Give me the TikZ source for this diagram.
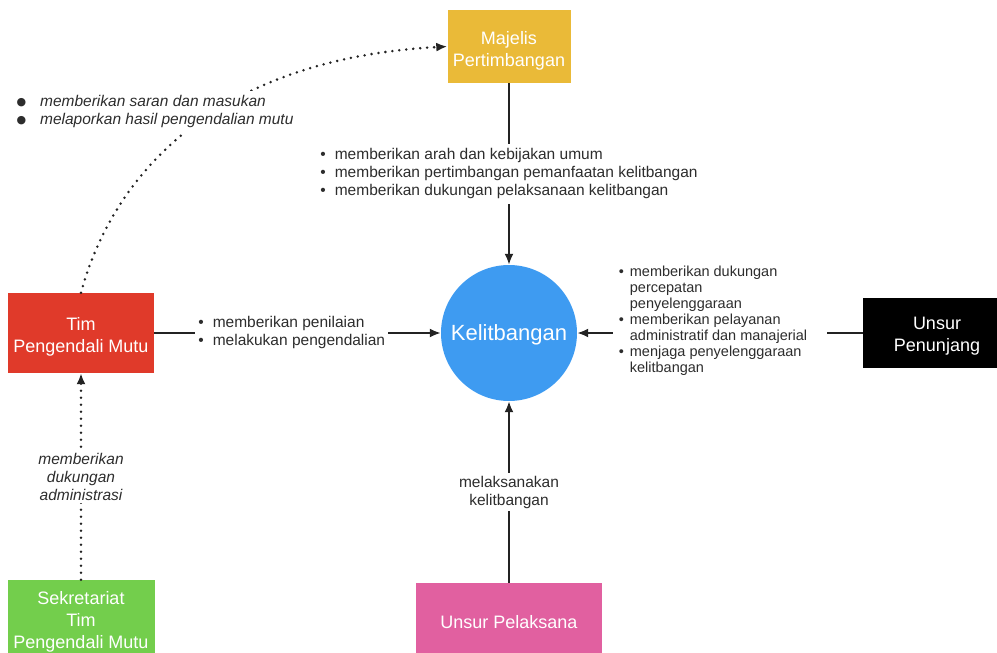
\documentclass[tikz,border=0pt]{standalone}
\usepackage{fontspec}
\setmainfont{Liberation Sans}
\newfontfamily\dejavu{DejaVu Sans}
\usetikzlibrary{arrows.meta}
\definecolor{cgold}{RGB}{234,186,56}
\definecolor{cblue}{RGB}{62,155,241}
\definecolor{cred}{RGB}{224,58,42}
\definecolor{cgreen}{RGB}{115,206,76}
\definecolor{cpink}{RGB}{225,96,160}
\definecolor{ctext}{RGB}{45,45,45}
\definecolor{cline}{RGB}{35,35,35}
\newcommand{\bigdot}{\raisebox{1.5pt}{\dejavu\fontsize{11}{11}\selectfont ●}}
\newcommand{\boxtxt}[2][-4pt]{\raisebox{#1}[\height][\depth]{\begin{tabular}{@{}c@{}}#2\end{tabular}}}
\begin{document}
\begin{tikzpicture}[x=1pt,y=-1pt,
  box/.style={rectangle, draw=none, text=white, align=center, inner sep=0pt,
    font=\fontsize{18}{22}\selectfont},
  lbl/.style={fill=white, text=ctext, inner sep=3pt, align=center,
    font=\fontsize{15.5}{18}\selectfont},
  conn/.style={draw=cline, line width=2pt, -{Latex[length=11pt,width=9pt]}},
  dotconn/.style={draw=cline, line width=2.8pt, dash pattern=on 0pt off 7pt,
    line cap=round, -{Latex[length=11pt,width=9pt]}}
]
\useasboundingbox (0,0) rectangle (997,653);

\node[box, fill=cgold, minimum width=123pt, minimum height=73pt] (maj) at (509,46.5) {\boxtxt[-5pt]{Majelis\\Pertimbangan}};
\node[circle, fill=cblue, minimum size=136pt, inner sep=0pt, text=white,
  font=\fontsize{22}{26}\selectfont] (kel) at (509,333) {\raisebox{-2pt}[\height][\depth]{Kelitbangan}};
\node[box, fill=cred, minimum width=146pt, minimum height=80pt] (tim) at (81,333) {\boxtxt[-4pt]{Tim\\Pengendali Mutu}};
\node[box, fill=black, minimum width=148pt, minimum height=70pt] (pen) at (937,333) {\boxtxt[-3pt]{Unsur\\Penunjang}};
\node[box, fill=cgreen, minimum width=147pt, minimum height=80pt] (sek) at (81,620) {\boxtxt[-2pt]{Sekretariat\\Tim\\Pengendali Mutu}};
\node[box, fill=cpink, minimum width=186pt, minimum height=78pt] (pel) at (509,622) {Unsur Pelaksana};

\draw[conn] (maj) -- node[lbl]{\begin{tabular}{@{}l@{\hspace{9pt}}l@{}}
  \textbullet & memberikan arah dan kebijakan umum\\
  \textbullet & memberikan pertimbangan pemanfaatan kelitbangan\\
  \textbullet & memberikan dukungan pelaksanaan kelitbangan
  \end{tabular}} (kel);

\draw[conn] (tim) -- node[lbl, pos=0.48]{\begin{tabular}{@{}l@{\hspace{9pt}}l@{}}
  \textbullet & memberikan penilaian\\
  \textbullet & melakukan pengendalian
  \end{tabular}} (kel);

\draw[conn] (pen) -- node[lbl, pos=0.50, yshift=12pt, inner xsep=6pt,
  font=\fontsize{14.5}{16}\selectfont]{\begin{tabular}{@{}l@{\hspace{6pt}}l@{\hspace{14pt}}}
  \textbullet & memberikan dukungan\\
   & percepatan\\
   & penyelenggaraan\\
  \textbullet & memberikan pelayanan\\
   & administratif dan manajerial\\
  \textbullet & menjaga penyelenggaraan\\
   & kelitbangan
  \end{tabular}} (kel);

\draw[conn] (pel) -- node[lbl]{melaksanakan\\kelitbangan} (kel);

\draw[dotconn] (sek) -- node[lbl, font=\fontsize{15.5}{18}\selectfont\itshape]{memberikan\\dukungan\\administrasi} (tim);

\draw[dotconn] (tim.north) .. controls +(28,-104) and +(-247,13.5) ..
  node[lbl, pos=0.55, xshift=-45pt, yshift=10pt, font=\fontsize{15.5}{18}\selectfont\itshape]{\begin{tabular}{@{}l@{\hspace{14pt}}l@{}}
  \bigdot & memberikan saran dan masukan\\
  \bigdot & melaporkan hasil pengendalian mutu
  \end{tabular}} (maj.west);
\end{tikzpicture}
\end{document}
